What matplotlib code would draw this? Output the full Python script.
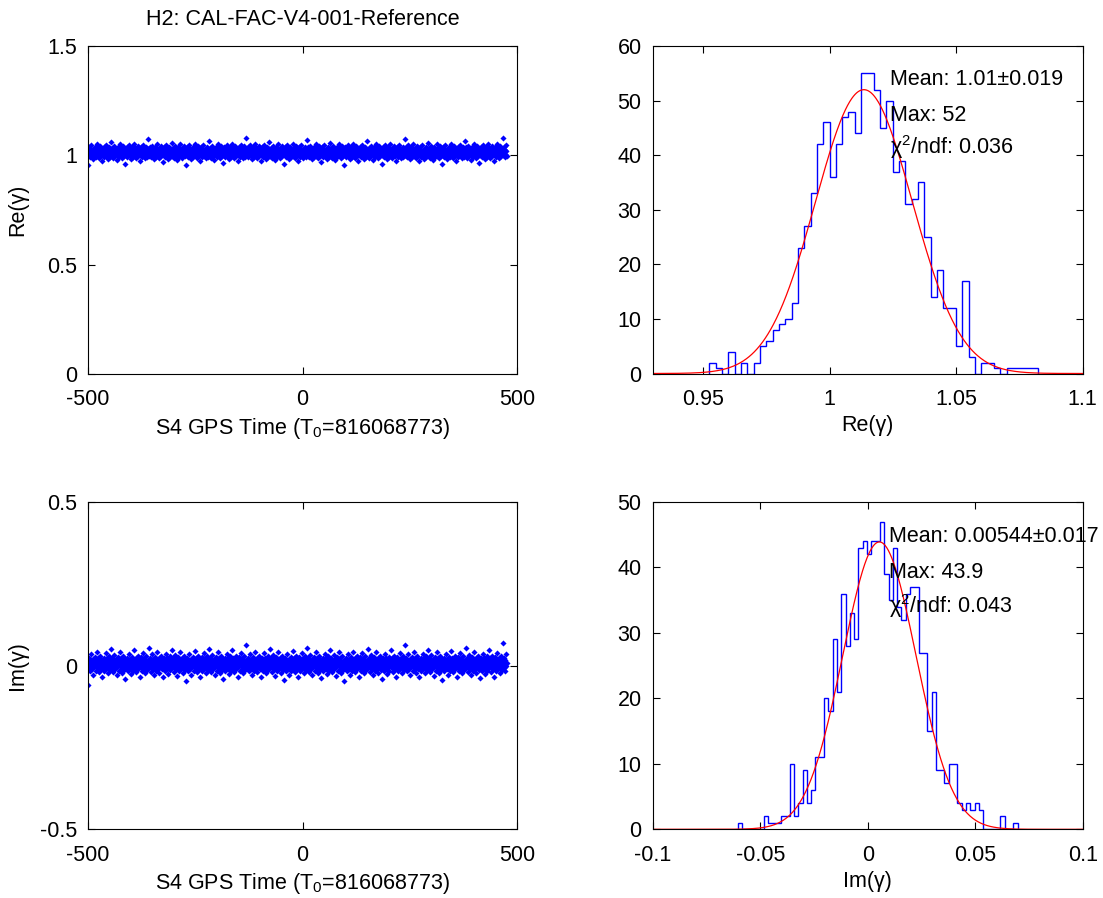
import numpy as np
import matplotlib
matplotlib.use('Agg')
import matplotlib.pyplot as plt
from matplotlib.ticker import FormatStrFormatter

plt.rcParams['font.family'] = ['Liberation Sans', 'DejaVu Sans']
plt.rcParams['mathtext.fontset'] = 'custom'
plt.rcParams['mathtext.rm'] = 'Liberation Sans'
plt.rcParams['mathtext.it'] = 'Liberation Sans:italic'
plt.rcParams['mathtext.bf'] = 'Liberation Sans:bold'
plt.rcParams['axes.unicode_minus'] = False

# ---------------- data ----------------
title = 'H2: CAL-FAC-V4-001-Reference'
time_label = 'S4 GPS Time (T$_0$=816068773)'
t_start, t_end = -500, 476

# Re(gamma) histogram (bin edges start + width, counts per bin)
re_edge0 = 0.9524
re_width = 0.0025
re_counts = [2, 1, 0, 4, 0, 2, 0, 2, 5, 6, 8, 9, 10, 13, 23, 27, 33, 42, 46, 36,
             42, 47, 48, 44, 55, 55, 52, 45, 50, 37, 39, 31, 32, 35, 25, 14, 19, 12, 12, 5,
             17, 3, 0, 2, 2, 1, 0, 1, 1, 1, 1, 1]
re_fit_mean, re_fit_sigma, re_fit_max = 1.0135, 0.0191, 52.0
re_stats = ['Mean: 1.01±0.019', 'Max: 52', 'χ$^2$/ndf: 0.036']

# Im(gamma) histogram
im_edge0 = -0.0603
im_width = 0.002
im_counts = [1, 0, 0, 0, 0, 0, 2, 1, 1, 1, 2, 2, 10, 2, 4, 9, 4, 6, 11, 11,
             20, 18, 29, 21, 36, 28, 33, 29, 43, 44, 42, 44, 44, 47, 39, 35, 43, 34, 32, 36,
             37, 37, 27, 27, 15, 21, 9, 9, 7, 10, 10, 4, 3, 4, 3, 4, 3, 0, 0, 0,
             0, 2, 0, 0, 1]
im_fit_mean, im_fit_sigma, im_fit_max = 0.00544, 0.017, 43.9
im_stats = ['Mean: 0.00544±0.017', 'Max: 43.9', 'χ$^2$/ndf: 0.043']

FS = 15.5
BLUE = (0, 0, 1)
RED = (1, 0, 0)


def values_from_hist(edge0, width, counts):
    counts = np.asarray(counts)
    edges = edge0 + width * np.arange(len(counts) + 1)
    centers = 0.5 * (edges[:-1] + edges[1:])
    vals_sorted = np.repeat(centers, counts)
    n = len(vals_sorted)
    # deterministic interleaving of the histogram values along time
    key = (np.arange(n) * 0.6180339887498949) % 1.0
    perm = np.argsort(key)
    series = np.empty(n)
    series[perm] = vals_sorted
    return edges, series


re_edges, re_series = values_from_hist(re_edge0, re_width, re_counts)
im_edges, im_series = values_from_hist(im_edge0, im_width, im_counts)
re_t = np.linspace(t_start, t_end, len(re_series))
im_t = np.linspace(t_start, t_end, len(im_series))

fig = plt.figure(figsize=(11.03, 8.98), dpi=100)
W, H = 1103.0, 898.0


def axes_px(x0, x1, y0, y1):
    return fig.add_axes([x0 / W, 1 - y1 / H, (x1 - x0) / W, (y1 - y0) / H])


ax1 = axes_px(88, 517, 46, 374)
ax2 = axes_px(652.7, 1082.7, 46, 373.5)
ax3 = axes_px(88, 517, 502, 829.3)
ax4 = axes_px(652.7, 1082.7, 502, 829.3)

for ax in (ax1, ax2, ax3, ax4):
    ax.tick_params(direction='in', top=True, right=True, length=5, width=0.8,
                   labelsize=FS)
    ax.tick_params(axis='x', pad=11)
    ax.tick_params(axis='y', pad=8)
    for s in ax.spines.values():
        s.set_linewidth(0.8)
    ax.xaxis.set_major_formatter(FormatStrFormatter('%g'))
    ax.yaxis.set_major_formatter(FormatStrFormatter('%g'))

# scatter Re
ax1.plot(re_t, re_series, linestyle='none', marker='D', markersize=3.1,
         markeredgewidth=0, color=BLUE)
ax1.set_xlim(-500, 500)
ax1.set_ylim(0, 1.5)
ax1.set_xticks([-500, 0, 500])
ax1.set_yticks([0, 0.5, 1, 1.5])
ax1.set_xlabel(time_label, fontsize=FS, labelpad=4)
ax1.set_ylabel('Re(γ)', fontsize=FS)
ax1.yaxis.set_label_coords(-0.14, 0.5)
ax1.text(0.5, 1.08, title, transform=ax1.transAxes, ha='center', va='center',
         fontsize=FS)

# scatter Im
ax3.plot(im_t, im_series, linestyle='none', marker='D', markersize=3.1,
         markeredgewidth=0, color=BLUE)
ax3.set_xlim(-500, 500)
ax3.set_ylim(-0.5, 0.5)
ax3.set_xticks([-500, 0, 500])
ax3.set_yticks([-0.5, 0, 0.5])
ax3.set_xlabel(time_label, fontsize=FS, labelpad=4)
ax3.set_ylabel('Im(γ)', fontsize=FS)
ax3.yaxis.set_label_coords(-0.14, 0.5)


def hist_panel(ax, edges, counts, mean, sigma, peak, xlim, ylim, xticks, yticks,
               xlabel, stats, tx, tys):
    ax.stairs(counts, edges, color=BLUE, linewidth=1.0, baseline=0)
    xx = np.linspace(xlim[0], xlim[1], 800)
    ax.plot(xx, peak * np.exp(-(xx - mean) ** 2 / (2 * sigma ** 2)), color=RED,
            linewidth=0.9)
    ax.set_xlim(*xlim)
    ax.set_ylim(*ylim)
    ax.set_xticks(xticks)
    ax.set_yticks(yticks)
    ax.set_xlabel(xlabel, fontsize=FS, labelpad=4)
    for s, ty in zip(stats, tys):
        ax.text(tx, ty, s, fontsize=FS, ha='left', va='center', clip_on=False)


hist_panel(ax2, re_edges, re_counts, re_fit_mean, re_fit_sigma, re_fit_max,
           (0.93, 1.1), (0, 60), [0.95, 1, 1.05, 1.1], [0, 10, 20, 30, 40, 50, 60],
           'Re(γ)', re_stats, 1.0238, [53.9, 47.3, 41.4])
hist_panel(ax4, im_edges, im_counts, im_fit_mean, im_fit_sigma, im_fit_max,
           (-0.1, 0.1), (0, 50), [-0.1, -0.05, 0, 0.05, 0.1], [0, 10, 20, 30, 40, 50],
           'Im(γ)', im_stats, 0.0099, [44.8, 39.3, 34.1])

fig.savefig('out.png', dpi=100, facecolor='white')
